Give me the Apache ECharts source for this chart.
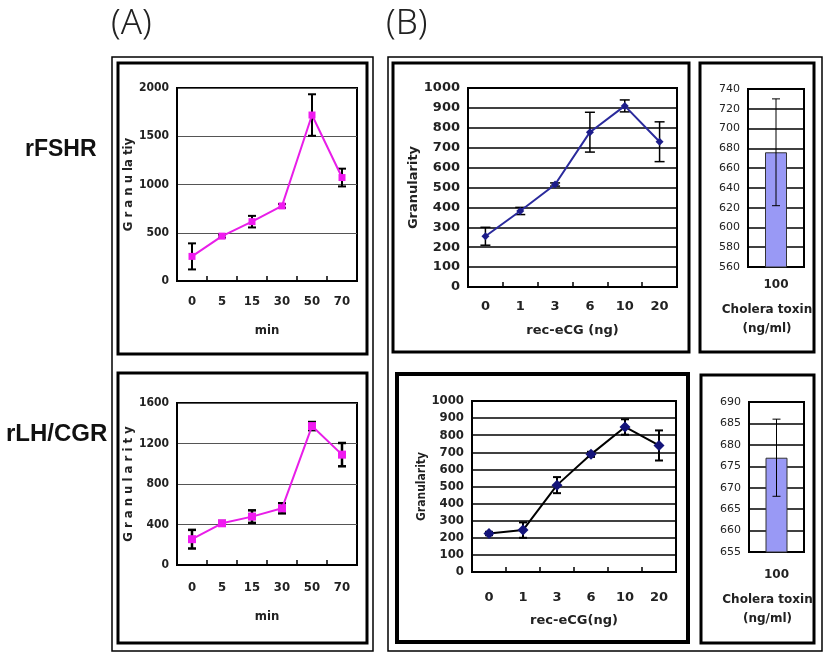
<!DOCTYPE html>
<html><head><meta charset="utf-8">
<script src="https://cdn.jsdelivr.net/npm/echarts@6/dist/echarts.min.js"></script>
<style>html,body{margin:0;padding:0;background:#fff}#c{width:827px;height:655px}</style>
</head><body><div id="c"></div>
<script>
// ---- data ----
var minuteCats = ['0','5','15','30','50','70'];
var fshrTimeMean = [255, 465, 615, 778, 1720, 1072];
var fshrTimeErr  = [135, 15, 60, 20, 215, 92];
var lhTimeMean   = [255, 412, 478, 560, 1372, 1090];
var lhTimeErr    = [92, 22, 62, 50, 40, 115];
var doseCats = ['0','1','3','6','10','20'];
var fshrDoseMean = [255, 382, 515, 778, 910, 730];
var fshrDoseErr  = [45, 18, 8, 100, 30, 100];
var lhDoseMean   = [225, 245, 508, 688, 848, 740];
var lhDoseErr    = [10, 45, 47, 15, 45, 88];
var ctCats = ['100'];
var ctFshrMean = [676];
var ctFshrErr  = [54];
var ctLhMean   = [677];
var ctLhErr    = [9];

function errData(mean, err){
  return mean.map(function(m,i){ return [i, m-err[i], m+err[i]]; });
}
function errItem(capHalf, lw){
  return function(params, api){
    var x = api.value(0), lo = api.value(1), hi = api.value(2);
    var p1 = api.coord([x, hi]), p2 = api.coord([x, lo]);
    var st = {stroke:'#000', lineWidth:lw};
    return {type:'group', children:[
      {type:'line', shape:{x1:p1[0],y1:p1[1],x2:p2[0],y2:p2[1]}, style:st},
      {type:'line', shape:{x1:p1[0]-capHalf,y1:p1[1],x2:p1[0]+capHalf,y2:p1[1]}, style:st},
      {type:'line', shape:{x1:p2[0]-capHalf,y1:p2[1],x2:p2[0]+capHalf,y2:p2[1]}, style:st}
    ]};
  };
}

var narrow = "'Liberation Sans Narrow','DejaVu Sans Condensed','Liberation Sans',sans-serif";
var wide = "'DejaVu Sans',sans-serif";

var grids = [
  {left:177, top:88, width:180, height:193},
  {left:177, top:403, width:180, height:162},
  {left:468, top:88, width:209, height:199},
  {left:472, top:401, width:204, height:171},
  {left:748, top:89, width:56, height:178},
  {left:749, top:402, width:55, height:150}
];
grids.forEach(function(g){ g.show = true; g.borderColor = '#000'; g.borderWidth = 2; g.containLabel = false; g.outerBoundsMode = 'none'; });

function xCat(gi, cats, name, labelMargin, nameGap, fontFam, fontW, fontSize, ticks, namePad){
  return {
    type:'category', gridIndex:gi, data:cats, boundaryGap:true,
    name:name, nameLocation:'middle', nameGap:nameGap,
    nameTextStyle:{fontFamily:fontFam, fontWeight:fontW, fontSize:fontSize, color:'#222', lineHeight:19, padding:namePad || 0},
    axisLine:{lineStyle:{color:'#000', width:2}},
    axisTick:{show:ticks, inside:true, length:5, lineStyle:{color:'#000', width:1.5}},
    axisLabel:{margin:labelMargin, fontFamily:fontFam, fontWeight:fontW, fontSize:fontSize, color:'#222'},
    splitLine:{show:false}
  };
}
function yVal(gi, min, max, interval, name, nameGap, fontFam, fontW, fontSize, gridColor, gridW, nameSize){
  return {
    type:'value', gridIndex:gi, min:min, max:max, interval:interval,
    name:name, nameLocation:'middle', nameGap:nameGap, nameRotate:90,
    nameTextStyle:{fontFamily:fontFam, fontWeight:fontW, fontSize:nameSize || fontSize, color:'#222'},
    axisLine:{show:true, lineStyle:{color:'#000', width:2}},
    axisTick:{show:false},
    axisLabel:{margin:8, fontFamily:fontFam, fontWeight:fontW, fontSize:fontSize, color:'#222',
      formatter:function(v){ return String(v); }},
    splitLine:{show:true, lineStyle:{color:gridColor, width:gridW}}
  };
}

var option = {
  animation:false,
  backgroundColor:'#fff',
  grid: grids,
  xAxis: [
    xCat(0, minuteCats, 'min', 14, 40, narrow, 'bold', 13, true),
    xCat(1, minuteCats, 'min', 16, 42, narrow, 'bold', 13, true),
    xCat(2, doseCats, 'rec-eCG (ng)', 13, 34, wide, 'bold', 13, true),
    xCat(3, doseCats, 'rec-eCG(ng)', 19, 39, wide, 'bold', 13, true),
    xCat(4, ctCats, 'Cholera toxin\n(ng/ml)', 12, 33, wide, 'bold', 12, false, [0,18,0,0]),
    xCat(5, ctCats, 'Cholera toxin\n(ng/ml)', 17, 38, wide, 'bold', 12, false, [0,18,0,0])
  ],
  yAxis: [
    yVal(0, 0, 2000, 500, 'G r a n u la tiy', 32, narrow, 'bold', 12, '#555', 1, 13),
    yVal(1, 0, 1600, 400, 'G r a n u l a r i t y', 35, narrow, 'bold', 12, '#555', 1, 13),
    yVal(2, 0, 1000, 100, 'Granularity', 44, wide, 'bold', 13, '#000', 1.5, 13),
    yVal(3, 0, 1000, 100, 'Granularity', 43, narrow, 'bold', 13, '#000', 1.5, 12),
    yVal(4, 560, 740, 20, '', 0, wide, 'normal', 11, '#000', 1.5),
    yVal(5, 655, 690, 5, '', 0, wide, 'normal', 11, '#000', 1.5)
  ],
  series: [
    {type:'custom', xAxisIndex:0, yAxisIndex:0, renderItem:errItem(4,2), data:errData(fshrTimeMean, fshrTimeErr), z:3},
    {type:'line', xAxisIndex:0, yAxisIndex:0, data:fshrTimeMean, symbol:'rect', symbolSize:7,
      lineStyle:{color:'#e81ee8', width:2}, itemStyle:{color:'#f01af0'}, z:4},
    {type:'custom', xAxisIndex:1, yAxisIndex:1, renderItem:errItem(4,2.5), data:errData(lhTimeMean, lhTimeErr), z:3},
    {type:'line', xAxisIndex:1, yAxisIndex:1, data:lhTimeMean, symbol:'rect', symbolSize:8,
      lineStyle:{color:'#e81ee8', width:2}, itemStyle:{color:'#f01af0'}, z:4},
    {type:'custom', xAxisIndex:2, yAxisIndex:2, renderItem:errItem(5,1.5), data:errData(fshrDoseMean, fshrDoseErr), z:3},
    {type:'line', xAxisIndex:2, yAxisIndex:2, data:fshrDoseMean, symbol:'diamond', symbolSize:8,
      lineStyle:{color:'#2a2a9c', width:2}, itemStyle:{color:'#1c1c8a'}, z:4},
    {type:'custom', xAxisIndex:3, yAxisIndex:3, renderItem:errItem(4,2), data:errData(lhDoseMean, lhDoseErr), z:3},
    {type:'line', xAxisIndex:3, yAxisIndex:3, data:lhDoseMean, symbol:'diamond', symbolSize:11,
      lineStyle:{color:'#000', width:2}, itemStyle:{color:'#14147a'}, z:4},
    {type:'bar', xAxisIndex:4, yAxisIndex:4, data:ctFshrMean, barWidth:22,
      itemStyle:{color:'#9999f5', borderColor:'#333', borderWidth:1}, z:2},
    {type:'custom', xAxisIndex:4, yAxisIndex:4, renderItem:errItem(4,1), data:errData(ctFshrMean, ctFshrErr), z:3},
    {type:'bar', xAxisIndex:5, yAxisIndex:5, data:ctLhMean, barWidth:22,
      itemStyle:{color:'#9999f5', borderColor:'#333', borderWidth:1}, z:2},
    {type:'custom', xAxisIndex:5, yAxisIndex:5, renderItem:errItem(4,1), data:errData(ctLhMean, ctLhErr), z:3}
  ],
  graphic: [
    {type:'rect', shape:{x:112, y:57, width:261, height:594}, style:{fill:null, stroke:'#000', lineWidth:1.5}},
    {type:'rect', shape:{x:118, y:63, width:249, height:291}, style:{fill:null, stroke:'#000', lineWidth:3}},
    {type:'rect', shape:{x:118, y:373, width:249, height:270}, style:{fill:null, stroke:'#000', lineWidth:3}},
    {type:'rect', shape:{x:388, y:57, width:434, height:594}, style:{fill:null, stroke:'#000', lineWidth:1.5}},
    {type:'rect', shape:{x:393, y:63, width:296, height:289}, style:{fill:null, stroke:'#000', lineWidth:3}},
    {type:'rect', shape:{x:700, y:63, width:114, height:289}, style:{fill:null, stroke:'#000', lineWidth:3}},
    {type:'rect', shape:{x:397, y:374, width:291, height:268}, style:{fill:null, stroke:'#000', lineWidth:4}},
    {type:'rect', shape:{x:701, y:375, width:113, height:268}, style:{fill:null, stroke:'#000', lineWidth:3}},
    {type:'text', x:111, y:7, style:{text:'(A)', font:"300 35px 'Noto Sans',sans-serif", fill:'#222'}},
    {type:'text', x:386, y:7, style:{text:'(B)', font:"300 35px 'Noto Sans',sans-serif", fill:'#222'}},
    {type:'text', x:25, y:150, style:{text:'rFSHR', font:"bold 23px 'Liberation Sans',Arial,sans-serif", fill:'#111', verticalAlign:'middle'}},
    {type:'text', x:6, y:434, style:{text:'rLH/CGR', font:"bold 24px 'Liberation Sans',Arial,sans-serif", fill:'#111', verticalAlign:'middle'}}
  ]
};
var chart = echarts.init(document.getElementById('c'), null, {renderer:'canvas'});
chart.setOption(option);
</script>
</body></html>
